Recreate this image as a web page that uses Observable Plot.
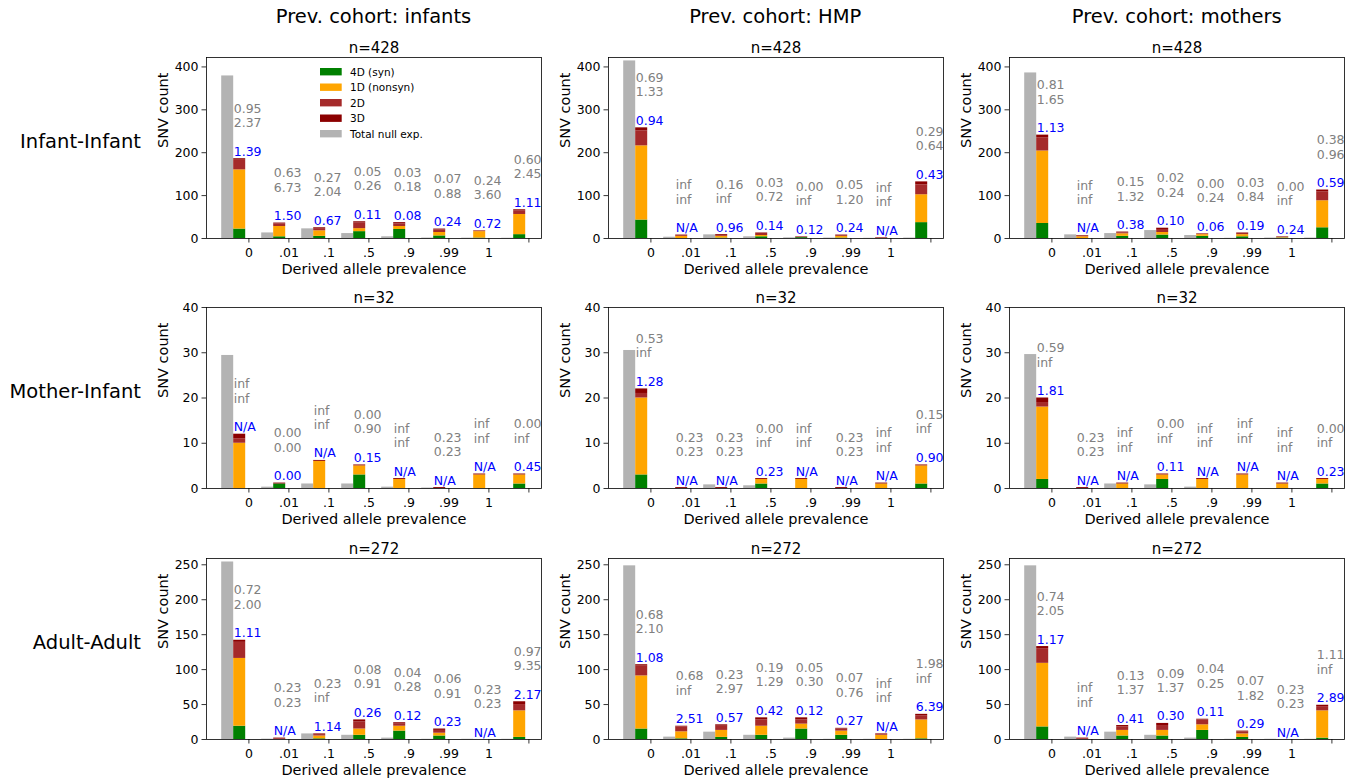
<!DOCTYPE html>
<html><head><meta charset="utf-8">
<script src="https://cdn.jsdelivr.net/npm/d3@7"></script>
<script src="https://cdn.jsdelivr.net/npm/@observablehq/plot@0.6"></script>
<style>
body{margin:0;background:#fff;font-family:"DejaVu Sans",sans-serif;}
#root{position:relative;width:1353px;height:780px;overflow:hidden;}
#root svg.panel{position:absolute;overflow:visible;}
#overlay{position:absolute;left:0;top:0;pointer-events:none;}
</style></head><body><div id="root"></div>
<script>
// ---------- labels ----------
const bins = [0, 1, 2, 3, 4, 5, 6, 7];
const tickLabels = ["0", ".01", ".1", ".5", ".9", ".99", "1", ""];
const colHeaders = ["Prev. cohort: infants", "Prev. cohort: HMP", "Prev. cohort: mothers"];
const rowLabels = ["Infant-Infant", "Mother-Infant", "Adult-Adult"];
const rowTitles = ["n=428", "n=32", "n=272"];
const rowYMax = [422, 40, 259];
const rowYTicks = [[0, 100, 200, 300, 400], [0, 10, 20, 30, 40], [0, 50, 100, 150, 200, 250]];
const typeNames = ["4D (syn)", "1D (nonsyn)", "2D", "3D"];
const typeColors = ["green", "orange", "brown", "darkred"];
const nullName = "Total null exp.";
const nullColor = "#b3b3b3";

// ---------- Infant-Infant ----------
const II_inf_null = [379, 13, 22.5, 11.5, 4, 1, 0.8, 0.6];
const II_inf_4D = [22, 4, 5, 16, 21, 6, 1, 9];
const II_inf_1D = [138, 24, 13, 7, 7, 8, 15, 47];
const II_inf_2D = [24, 6, 5, 13, 6, 6, 1, 8];
const II_inf_3D = [2, 2, 2, 3, 3, 2, 1, 3];
const II_inf_ratio = ["1.39", "1.50", "0.67", "0.11", "0.08", "0.24", "0.72", "1.11"];
const II_inf_p = ["0.95\n2.37", "0.63\n6.73", "0.27\n2.04", "0.05\n0.26", "0.03\n0.18", "0.07\n0.88", "0.24\n3.60", "0.60\n2.45"];

const II_hmp_null = [414, 3, 8.5, 4, 1.5, 1, 0.5, 1];
const II_hmp_4D = [43, 0, 1, 4, 2, 1, 0, 37];
const II_hmp_1D = [173, 5, 4, 3, 0, 4, 0, 65];
const II_hmp_2D = [35, 2, 2, 5, 1, 2, 1, 23];
const II_hmp_3D = [7, 1, 2, 1, 1, 1, 1, 7];
const II_hmp_ratio = ["0.94", "N/A", "0.96", "0.14", "0.12", "0.24", "N/A", "0.43"];
const II_hmp_p = ["0.69\n1.33", "inf\ninf", "0.16\ninf", "0.03\n0.72", "0.00\ninf", "0.05\n1.20", "inf\ninf", "0.29\n0.64"];

const II_mom_null = [386, 8.5, 11.5, 18.5, 7, 0.5, 1, 1];
const II_mom_4D = [35, 0, 5, 8, 5, 4, 1, 25];
const II_mom_1D = [169, 4, 6, 6, 4, 5, 1, 63];
const II_mom_2D = [31, 2, 2, 7, 1, 3, 1, 21];
const II_mom_3D = [6, 1, 2, 3, 1, 1, 1, 4];
const II_mom_ratio = ["1.13", "N/A", "0.38", "0.10", "0.06", "0.19", "0.24", "0.59"];
const II_mom_p = ["0.81\n1.65", "inf\ninf", "0.15\n1.32", "0.02\n0.24", "0.00\n0.24", "0.03\n0.84", "0.00\ninf", "0.38\n0.96"];

// ---------- Mother-Infant ----------
const MI_inf_null = [29.4, 0.3, 1, 1, 0.3, 0.1, 0, 0];
const MI_inf_4D = [0, 1, 0, 3, 0, 0, 0, 1];
const MI_inf_1D = [10, 0, 6, 2, 2, 0, 3, 2];
const MI_inf_2D = [1, 0, 0, 0, 0, 0, 0, 0];
const MI_inf_3D = [1, 0.2, 0.2, 0.2, 0.2, 0.2, 0.2, 0.2];
const MI_inf_ratio = ["N/A", "0.00", "N/A", "0.15", "N/A", "N/A", "N/A", "0.45"];
const MI_inf_p = ["inf\ninf", "0.00\n0.00", "inf\ninf", "0.00\n0.90", "inf\ninf", "0.23\n0.23", "inf\ninf", "0.00\ninf"];

const MI_hmp_null = [30.5, 0, 0.8, 0.6, 0, 0, 0, 0];
const MI_hmp_4D = [3, 0, 0, 1, 0, 0, 0, 1];
const MI_hmp_1D = [17, 0, 0, 1, 2, 0, 1, 4];
const MI_hmp_2D = [1, 0, 0, 0, 0, 0, 0, 0];
const MI_hmp_3D = [1, 0.2, 0.2, 0.2, 0.2, 0.2, 0.2, 0.2];
const MI_hmp_ratio = ["1.28", "N/A", "N/A", "0.23", "N/A", "N/A", "N/A", "0.90"];
const MI_hmp_p = ["0.53\ninf", "0.23\n0.23", "0.23\n0.23", "0.00\ninf", "inf\ninf", "0.23\n0.23", "inf\ninf", "0.15\ninf"];

const MI_mom_null = [29.6, 0, 1, 0.8, 0.3, 0, 0, 0];
const MI_mom_4D = [2, 0, 0, 2, 0, 0, 0, 1];
const MI_mom_1D = [16, 0, 1, 1, 2, 3, 1, 1];
const MI_mom_2D = [1, 0, 0, 0, 0, 0, 0, 0];
const MI_mom_3D = [1, 0.2, 0.2, 0.2, 0.2, 0.2, 0.2, 0.2];
const MI_mom_ratio = ["1.81", "N/A", "N/A", "0.11", "N/A", "N/A", "N/A", "0.23"];
const MI_mom_p = ["0.59\ninf", "0.23\n0.23", "inf\ninf", "0.00\ninf", "inf\ninf", "inf\ninf", "inf\ninf", "0.00\ninf"];

// ---------- Adult-Adult ----------
const AA_inf_null = [254, 0.5, 8, 6, 2, 0.3, 0.3, 0.3];
const AA_inf_4D = [19, 0, 1, 6, 12, 5, 0, 3];
const AA_inf_1D = [97, 0, 4, 9, 7, 4, 0, 38];
const AA_inf_2D = [23, 1, 2, 10, 3, 4, 0, 9];
const AA_inf_3D = [3, 1, 1, 3, 2, 2, 0, 4];
const AA_inf_ratio = ["1.11", "N/A", "1.14", "0.26", "0.12", "0.23", "N/A", "2.17"];
const AA_inf_p = ["0.72\n2.00", "0.23\n0.23", "0.23\ninf", "0.08\n0.91", "0.04\n0.28", "0.06\n0.91", "0.23\n0.23", "0.97\n9.35"];

const AA_hmp_null = [248.5, 3.4, 10.5, 6, 2, 0.3, 0.3, 0.3];
const AA_hmp_4D = [15, 1, 3, 6, 15, 6, 0, 1];
const AA_hmp_1D = [76, 10, 10, 13, 7, 6, 6, 27];
const AA_hmp_2D = [14, 7, 6, 9, 6, 3, 1, 6];
const AA_hmp_3D = [2, 1, 2, 3, 3, 1, 1, 2];
const AA_hmp_ratio = ["1.08", "2.51", "0.57", "0.42", "0.12", "0.27", "N/A", "6.39"];
const AA_hmp_p = ["0.68\n2.10", "0.68\ninf", "0.23\n2.97", "0.19\n1.29", "0.05\n0.30", "0.07\n0.76", "inf\ninf", "1.98\ninf"];

const AA_mom_null = [248.5, 3.4, 10.5, 6, 2, 0.3, 0.3, 0.3];
const AA_mom_4D = [18, 0, 5, 5, 13, 3, 0, 2];
const AA_mom_1D = [91, 0, 8, 8, 8, 5, 0, 39];
const AA_mom_2D = [21, 1, 5, 7, 7, 3, 0, 6];
const AA_mom_3D = [3, 1, 2, 3, 1, 1, 0, 2];
const AA_mom_ratio = ["1.17", "N/A", "0.41", "0.30", "0.11", "0.29", "N/A", "2.89"];
const AA_mom_p = ["0.74\n2.05", "inf\ninf", "0.13\n1.37", "0.09\n1.37", "0.04\n0.25", "0.07\n1.82", "0.23\n0.23", "1.11\ninf"];

// ---------- assemble ----------
const panelData = [
  [
    {nul: II_inf_null, st: [II_inf_4D, II_inf_1D, II_inf_2D, II_inf_3D], ratio: II_inf_ratio, p: II_inf_p},
    {nul: II_hmp_null, st: [II_hmp_4D, II_hmp_1D, II_hmp_2D, II_hmp_3D], ratio: II_hmp_ratio, p: II_hmp_p},
    {nul: II_mom_null, st: [II_mom_4D, II_mom_1D, II_mom_2D, II_mom_3D], ratio: II_mom_ratio, p: II_mom_p}
  ],
  [
    {nul: MI_inf_null, st: [MI_inf_4D, MI_inf_1D, MI_inf_2D, MI_inf_3D], ratio: MI_inf_ratio, p: MI_inf_p},
    {nul: MI_hmp_null, st: [MI_hmp_4D, MI_hmp_1D, MI_hmp_2D, MI_hmp_3D], ratio: MI_hmp_ratio, p: MI_hmp_p},
    {nul: MI_mom_null, st: [MI_mom_4D, MI_mom_1D, MI_mom_2D, MI_mom_3D], ratio: MI_mom_ratio, p: MI_mom_p}
  ],
  [
    {nul: AA_inf_null, st: [AA_inf_4D, AA_inf_1D, AA_inf_2D, AA_inf_3D], ratio: AA_inf_ratio, p: AA_inf_p},
    {nul: AA_hmp_null, st: [AA_hmp_4D, AA_hmp_1D, AA_hmp_2D, AA_hmp_3D], ratio: AA_hmp_ratio, p: AA_hmp_p},
    {nul: AA_mom_null, st: [AA_mom_4D, AA_mom_1D, AA_mom_2D, AA_mom_3D], ratio: AA_mom_ratio, p: AA_mom_p}
  ]
];

// ---------- layout ----------
const frameLefts = [206, 607.7, 1009.3];
const frameTops = [57, 307.3, 557.6];
const frameW = 335, frameH = 181;
const mL = 62, mR = 14, mT = 26, mB = 42;
const xDomain = [-0.68, 7.695];
const barW = 0.3;
const tickOffset = 0.38;
const tickPositions = bins.map(b => b + tickOffset);

const root = document.getElementById("root");

function panel(r, c) {
  const pd = panelData[r][c];
  const nullRows = bins.map((b, i) => ({i: b, v: pd.nul[i]}));
  const stackRows = [];
  const annRows = [];
  bins.forEach((b, i) => {
    let y = 0;
    pd.st.forEach((arr, t) => {
      const v = arr[i];
      if (v > 0) stackRows.push({i: b, y1: y, y2: y + v, fill: typeColors[t]});
      y += v;
    });
    annRows.push({i: b, total: y, ratio: pd.ratio[i], p: pd.p[i]});
  });
  const svg = Plot.plot({
    width: mL + frameW + mR,
    height: mT + frameH + mB,
    marginLeft: mL, marginRight: mR, marginTop: mT, marginBottom: mB,
    style: {fontFamily: "DejaVu Sans", fontSize: "12px", background: "transparent", overflow: "visible"},
    x: {domain: xDomain},
    y: {domain: [0, rowYMax[r]]},
    marks: [
      Plot.rect(nullRows, {x1: d => d.i - barW, x2: d => d.i, y1: 0, y2: d => d.v, fill: nullColor}),
      Plot.rect(stackRows, {x1: d => d.i, x2: d => d.i + barW, y1: "y1", y2: "y2", fill: "fill"}),
      Plot.frame({stroke: "#000", strokeWidth: 0.8}),
      Plot.axisX({ticks: tickPositions, tickFormat: d => tickLabels[Math.round(d - tickOffset)], tickSize: 4.5, tickPadding: 5, fontSize: 12.5, label: null, strokeWidth: 0.8, fill: "#000"}),
      Plot.axisY({ticks: rowYTicks[r], tickSize: 4.5, tickPadding: 3.5, fontSize: 12.5, label: null, strokeWidth: 0.8, fill: "#000"}),
      Plot.text(["Derived allele prevalence"], {frameAnchor: "bottom", dy: 35.8, lineAnchor: "bottom", fontSize: 14.5, fill: "#000"}),
      Plot.text(["SNV count"], {frameAnchor: "left", rotate: -90, dx: -38.5, lineAnchor: "bottom", fontSize: 14.5, fill: "#000"}),
      Plot.text([rowTitles[r]], {frameAnchor: "top", dy: -4.3, lineAnchor: "bottom", fontSize: 15, fill: "#000"}),
      Plot.text(annRows, {x: "i", y: "total", text: "ratio", textAnchor: "start", lineAnchor: "bottom", dy: -3, fill: "blue", fontSize: 12.5}),
      Plot.text(annRows, {x: "i", y: "total", text: "p", textAnchor: "start", lineAnchor: "bottom", dy: -31.5, lineHeight: 1.15, fill: "#808080", fontSize: 12.5})
    ]
  });
  svg.classList.add("panel");
  svg.style.left = (frameLefts[c] - mL) + "px";
  svg.style.top = (frameTops[r] - mT) + "px";
  root.appendChild(svg);
}

for (let r = 0; r < 3; r++) for (let c = 0; c < 3; c++) panel(r, c);

// ---------- headers, row labels, legend ----------
const ns = "http://www.w3.org/2000/svg";
const ov = document.createElementNS(ns, "svg");
ov.setAttribute("id", "overlay");
ov.setAttribute("width", 1353);
ov.setAttribute("height", 780);
ov.setAttribute("font-family", "DejaVu Sans");
function txt(s, x, y, size, anchor) {
  const t = document.createElementNS(ns, "text");
  t.setAttribute("x", x); t.setAttribute("y", y);
  t.setAttribute("font-size", size); t.setAttribute("text-anchor", anchor);
  t.setAttribute("fill", "#000");
  t.textContent = s;
  ov.appendChild(t);
}
colHeaders.forEach((h, c) => txt(h, frameLefts[c] + frameW / 2, 22.5, 19.5, "middle"));
rowLabels.forEach((h, r) => txt(h, 141, frameTops[r] + frameH / 2 + 0.5, 19.5, "end"));
const legendItems = typeNames.map((n, i) => ({n, col: typeColors[i]})).concat([{n: nullName, col: nullColor}]);
legendItems.forEach((it, k) => {
  const cy = 71.7 + k * 15.5;
  const rc = document.createElementNS(ns, "rect");
  rc.setAttribute("x", 320); rc.setAttribute("y", cy - 3.7);
  rc.setAttribute("width", 21.7); rc.setAttribute("height", 7.4);
  rc.setAttribute("fill", it.col);
  ov.appendChild(rc);
  txt(it.n, 350, cy + 3.8, 10.5, "start");
});
root.appendChild(ov);
</script>
</body></html>
